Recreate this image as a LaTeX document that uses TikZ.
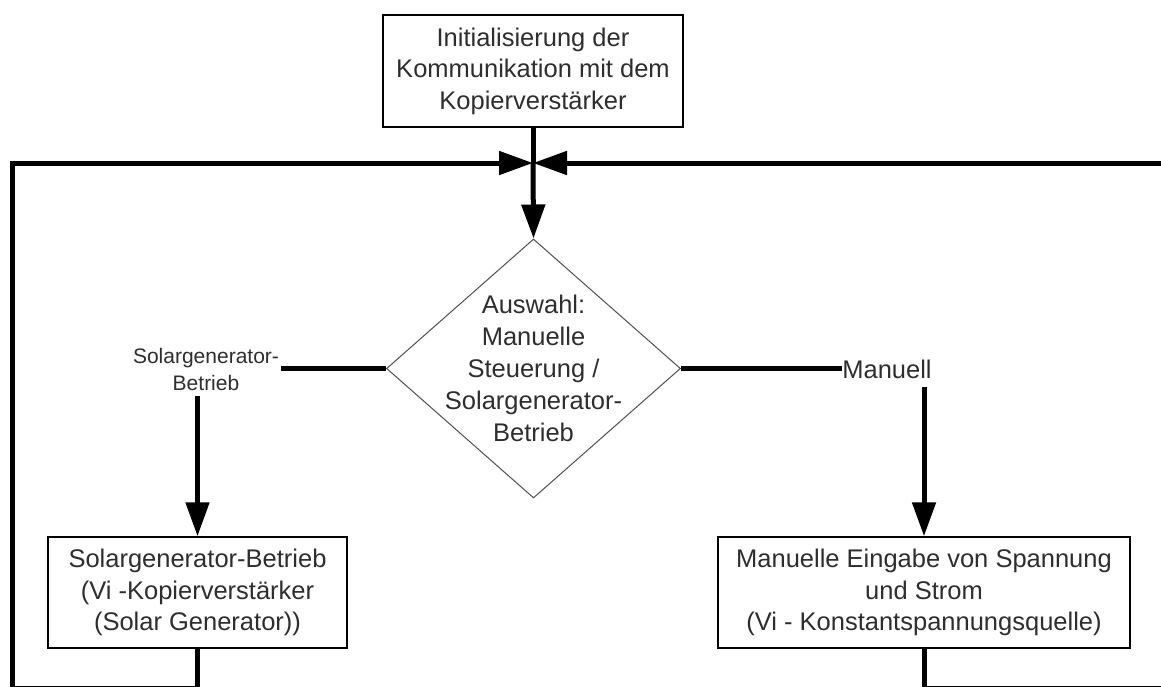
\documentclass[tikz,border=0pt]{standalone}
\usepackage{fontspec}
\setmainfont{Liberation Sans}
\usetikzlibrary{arrows.meta,shapes.geometric}
\definecolor{txt}{HTML}{2E2E2E}
\definecolor{dgray}{HTML}{505050}
\begin{document}
\begin{tikzpicture}[x=1pt,y=-1pt,
  box/.style={draw=black,line width=1.5pt,fill=white,align=center,text=txt,inner sep=0pt,
    font=\fontsize{25.5}{31.5}\selectfont},
  lbl/.style={align=center,text=txt,inner sep=0pt},
  flow/.style={line width=5pt,draw=black},
  arr/.style={flow,-{Triangle[length=34pt,width=23pt]}}]
\useasboundingbox (0,0) rectangle (1161,686);
\clip (0,0) rectangle (1161,686);
\fill[white] (0,0) rectangle (1161,686);
% nodes
\node[box,minimum width=300pt,minimum height=112pt] (tb) at (533,71)
  {Initialisierung der\\Kommunikation mit dem\\Kopierverstärker};
\node[draw=dgray,line width=1pt,shape=diamond,minimum width=294pt,minimum height=259pt,inner sep=0pt] (d) at (533.5,368.5) {};
\node[lbl,font=\fontsize{25.5}{32}\selectfont] (dt) at (d.center)
  {Auswahl:\\Manuelle\\Steuerung /\\Solargenerator-\\Betrieb};
\node[box,minimum width=299pt,minimum height=111pt] (lb) at (197.5,592.5)
  {Solargenerator-Betrieb\\(Vi -Kopierverstärker\\(Solar Generator))};
\node[box,minimum width=412pt,minimum height=111pt] (rb) at (924,592.5)
  {Manuelle Eingabe von Spannung\\und Strom\\(Vi - Konstantspannungsquelle)};
\node[lbl,font=\fontsize{21}{27}\selectfont,inner xsep=2pt,inner ysep=6pt] (sl) at (206,369)
  {Solargenerator-\\Betrieb};
\node[lbl,font=\fontsize{25.5}{30}\selectfont,inner xsep=0pt,inner ysep=8pt] (ml) at (887,369) {Manuell};
\coordinate (j) at (533,163);
\coordinate (lbot) at (12,688);
\coordinate (ltop) at (12,163);
\coordinate (rbot) at (1175,688);
\coordinate (rtop) at (1175,163);
% connectors
\draw[flow] (tb.south) -- (j);
\draw[arr] (j) -- (d.north);
\draw[flow] (d.west) -- (sl.east |- d.west);
\draw[arr] (sl.south -| lb.north) -- (lb.north);
\draw[flow] (d.east) -- (ml.west |- d.east);
\draw[arr] (ml.south -| rb.north) -- (rb.north);
\draw[arr,line join=miter] (lb.south) -- (lb.south |- lbot) -- (lbot) -- (ltop) -- (j);
\draw[arr,line join=miter] (rb.south) -- (rb.south |- rbot) -- (rbot) -- (rtop) -- (j);
\end{tikzpicture}
\end{document}
